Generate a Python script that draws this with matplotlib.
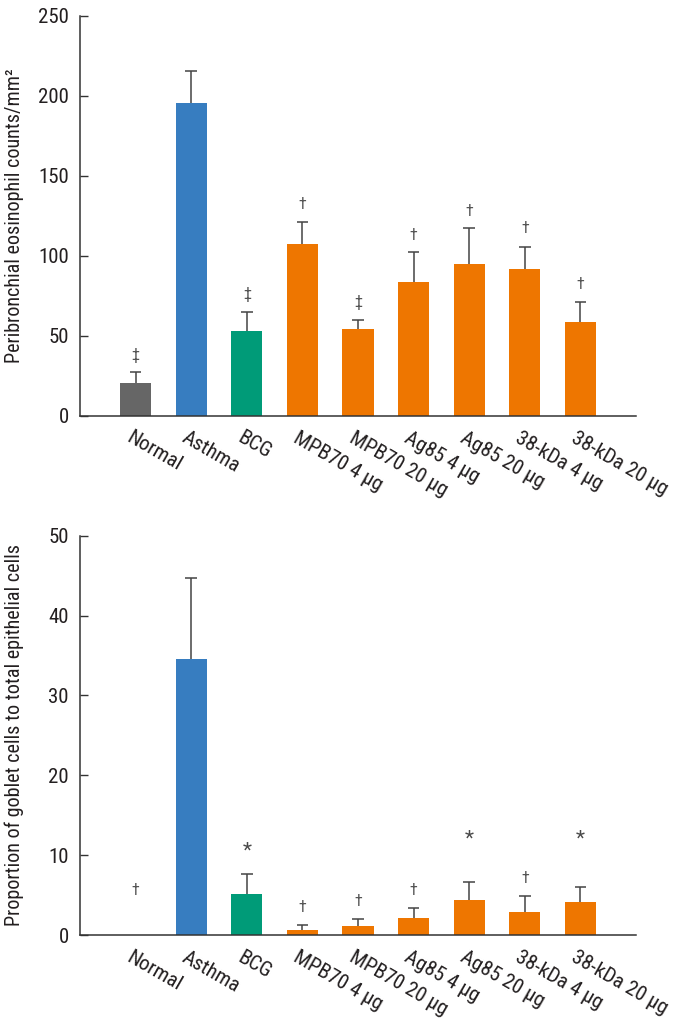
import matplotlib
matplotlib.use("Agg")
import matplotlib.pyplot as plt
import matplotlib.transforms as mtransforms
import numpy as np

plt.rcParams['font.family'] = ['Roboto Condensed', 'Liberation Sans Narrow',
                               'Roboto', 'DejaVu Sans']

groups = ['Normal', 'Asthma', 'BCG', 'MPB70 4 µg', 'MPB70 20 µg',
          'Ag85 4 µg', 'Ag85 20 µg', '38-kDa 4 µg', '38-kDa 20 µg']
bar_colors = ['#666666', '#377dc0', '#009b78', '#ee7600', '#ee7600',
              '#ee7600', '#ee7600', '#ee7600', '#ee7600']

# peribronchial eosinophils
eos_mean = [20.8, 195.8, 53.1, 107.5, 54.2, 83.8, 95.2, 91.7, 58.8]
eos_err = [6.7, 19.6, 12.1, 13.5, 6.0, 18.5, 22.3, 14.1, 12.2]
eos_sig = ['‡', '', '‡', '†', '‡', '†', '†', '†', '†']
eos_sig_y = [38, 0, 76, 132, 71, 113, 128, 117, 82]

# goblet cells
gob_mean = [0.0, 34.6, 5.1, 0.63, 1.13, 2.13, 4.42, 2.83, 4.13]
gob_err = [0.0, 10.1, 2.5, 0.62, 0.92, 1.29, 2.21, 2.05, 1.87]
gob_sig = ['†', '', '*', '†', '†', '†', '*', '†', '*']
gob_sig_y = [5.6, 0, 10.5, 3.4, 4.2, 5.6, 12.05, 7.05, 12.05]

fig = plt.figure(figsize=(6.77, 10.23), dpi=100)
ax1 = fig.add_axes([0.1182, 0.5934, 0.8213, 0.391])
ax2 = fig.add_axes([0.1182, 0.0860, 0.8213, 0.3903])


def draw_panel(ax, means, errs, sig, sig_y, ymax, step, ylabel):
    x = np.arange(len(groups))
    means = np.array(means)
    errs = np.array(errs)
    ax.bar(x, means, width=0.56, color=bar_colors, zorder=2)
    # upper error bars only
    has = errs > 0
    ax.vlines(x[has], means[has], means[has] + errs[has],
              color='#444444', lw=1.1, zorder=3)
    ax.hlines(means[has] + errs[has], x[has] - 0.105, x[has] + 0.105,
              color='#444444', lw=1.1, zorder=3)
    for i, s in enumerate(sig):
        if s:
            ax.text(x[i], sig_y[i], s, ha='center', va='center',
                    fontsize=15 if s == '*' else 11.5,
                    color='#4a4a4a' if s == '*' else '#555555')
    ax.set_xlim(-1, 9)
    ax.set_ylim(0, ymax)
    ax.set_yticks(np.arange(0, ymax + 1, step))
    for sp in ['top', 'right']:
        ax.spines[sp].set_visible(False)
    for sp in ['left', 'bottom']:
        ax.spines[sp].set_color('#333333')
        ax.spines[sp].set_linewidth(1.1)
    ax.tick_params(axis='y', direction='in', length=6, width=1,
                   color='#333333', labelsize=15, pad=8,
                   labelcolor='#231f20')
    ax.tick_params(axis='x', length=0, pad=9, labelsize=15,
                   labelcolor='#231f20')
    ax.set_xticks(x)
    ax.set_xticklabels(groups, rotation=-30, ha='left', va='top',
                       rotation_mode='anchor')
    shift = mtransforms.ScaledTranslation(-3 / 100, 0, fig.dpi_scale_trans)
    for lab in ax.get_xticklabels():
        lab.set_transform(lab.get_transform() + shift)
    ax.set_ylabel(ylabel, fontsize=14.5, color='#231f20')
    ax.yaxis.set_label_coords(-0.1, 0.5)


draw_panel(ax1, eos_mean, eos_err, eos_sig, eos_sig_y, 250, 50,
           'Peribronchial eosinophil counts/mm²')
draw_panel(ax2, gob_mean, gob_err, gob_sig, gob_sig_y, 50, 10,
           'Proportion of goblet cells to total epithelial cells')

fig.savefig('out.png', dpi=100)
